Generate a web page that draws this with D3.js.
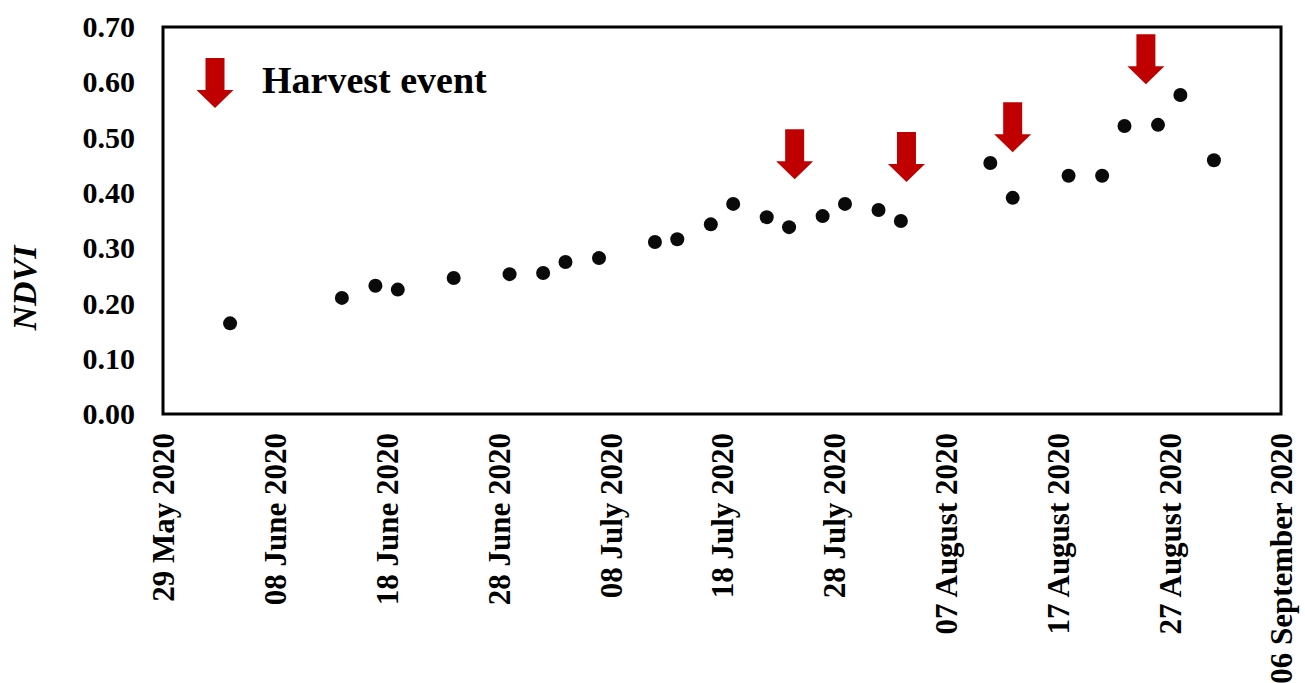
<!DOCTYPE html>
<html>
<head>
<meta charset="utf-8">
<script src="https://cdn.jsdelivr.net/npm/d3@7/dist/d3.min.js"></script>
<style>
  html, body { margin: 0; padding: 0; background: #fff; }
  svg { display: block; }
  text { font-family: "Liberation Serif", "Times New Roman", serif; font-weight: bold; fill: #000; }
</style>
</head>
<body>
<svg id="chart" width="1305" height="683"></svg>
<script>
// ---- data ----
const obsDates = [
  "2020-06-04","2020-06-14","2020-06-17","2020-06-19","2020-06-24","2020-06-29",
  "2020-07-02","2020-07-04","2020-07-07","2020-07-12","2020-07-14","2020-07-17",
  "2020-07-19","2020-07-22","2020-07-24","2020-07-27","2020-07-29","2020-08-01",
  "2020-08-03","2020-08-11","2020-08-13","2020-08-18","2020-08-21","2020-08-23",
  "2020-08-26","2020-08-28","2020-08-31"
];
const ndviValues = [
  0.164, 0.210, 0.232, 0.225, 0.246, 0.253,
  0.255, 0.275, 0.282, 0.311, 0.316, 0.343,
  0.380, 0.356, 0.338, 0.358, 0.380, 0.369,
  0.349, 0.454, 0.391, 0.431, 0.431, 0.521,
  0.523, 0.577, 0.459
];
const harvestDates = ["2020-07-24T12:00","2020-08-03T12:00","2020-08-13T00:00","2020-08-24T22:00"];
const harvestArrowTop = [0.515, 0.510, 0.564, 0.687];
const xTickDates = ["2020-05-29","2020-06-08","2020-06-18","2020-06-28","2020-07-08","2020-07-18",
                    "2020-07-28","2020-08-07","2020-08-17","2020-08-27","2020-09-06"];
const xTickLabels = ["29 May 2020","08 June 2020","18 June 2020","28 June 2020","08 July 2020","18 July 2020",
                     "28 July 2020","07 August 2020","17 August 2020","27 August 2020","06 September 2020"];
const yTicks = [0, 0.1, 0.2, 0.3, 0.4, 0.5, 0.6, 0.7];
const yLabel = "NDVI";
const legendLabel = "Harvest event";

// ---- layout ----
const parse = s => new Date(s + (s.length === 10 ? "T00:00" : ""));
const m = { left: 163, top: 27, width: 1118, height: 387 };
const svg = d3.select("#chart");
const g = svg.append("g").attr("transform", `translate(${m.left},${m.top})`);

const x = d3.scaleTime()
  .domain([parse(xTickDates[0]), parse(xTickDates[xTickDates.length - 1])])
  .range([0, m.width]);
const y = d3.scaleLinear().domain([0, 0.7]).range([m.height, 0]);

// y axis labels
const yAxis = d3.axisLeft(y).tickValues(yTicks).tickFormat(d3.format(".2f")).tickSize(0).tickPadding(28);
const ya = g.append("g").call(yAxis);
ya.select(".domain").remove();
ya.selectAll("text").style("font-size", "30px").style("font-family", "Liberation Serif").style("font-weight", "bold");

// x axis labels
const xAxis = d3.axisBottom(x).tickValues(xTickDates.map(parse))
  .tickFormat((d, i) => xTickLabels[i]).tickSize(0).tickPadding(0);
const xa = g.append("g").attr("transform", `translate(0,${m.height})`).call(xAxis);
xa.select(".domain").remove();
xa.selectAll("text")
  .style("font-size", "31px").style("font-family", "Liberation Serif").style("font-weight", "bold")
  .attr("text-anchor", "end")
  .attr("transform", "rotate(-90)")
  .attr("x", -19).attr("y", 0).attr("dy", "0.35em");

// frame
g.append("rect").attr("x", 0).attr("y", 0).attr("width", m.width).attr("height", m.height)
  .attr("fill", "none").attr("stroke", "#000").attr("stroke-width", 3);

// points
g.selectAll("circle.pt").data(obsDates.map((d, i) => ({ d: parse(d), v: ndviValues[i] })))
  .enter().append("circle").attr("class", "pt")
  .attr("cx", d => x(d.d)).attr("cy", d => y(d.v)).attr("r", 7).attr("fill", "#0a0a0a");

// arrows
function arrowPath(cx, top) {
  const sw = 9.5, hw = 18.5, shaftLen = 32, total = 50;
  return `M${cx - sw},${top} L${cx + sw},${top} L${cx + sw},${top + shaftLen} L${cx + hw},${top + shaftLen}
          L${cx},${top + total} L${cx - hw},${top + shaftLen} L${cx - sw},${top + shaftLen} Z`;
}
g.selectAll("path.harvest").data(harvestDates.map((d, i) => ({ d: parse(d), v: harvestArrowTop[i] })))
  .enter().append("path").attr("class", "harvest")
  .attr("d", d => arrowPath(x(d.d), y(d.v))).attr("fill", "#c00000");

// legend
svg.append("path").attr("d", arrowPath(215, 58)).attr("fill", "#c00000");
svg.append("text").attr("x", 262).attr("y", 93).style("font-size", "38px").text(legendLabel);

// y label
svg.append("text").attr("transform", "translate(36,288) rotate(-90)")
  .attr("text-anchor", "middle").style("font-size", "34px").style("font-style", "italic").text(yLabel);
</script>
</body>
</html>
